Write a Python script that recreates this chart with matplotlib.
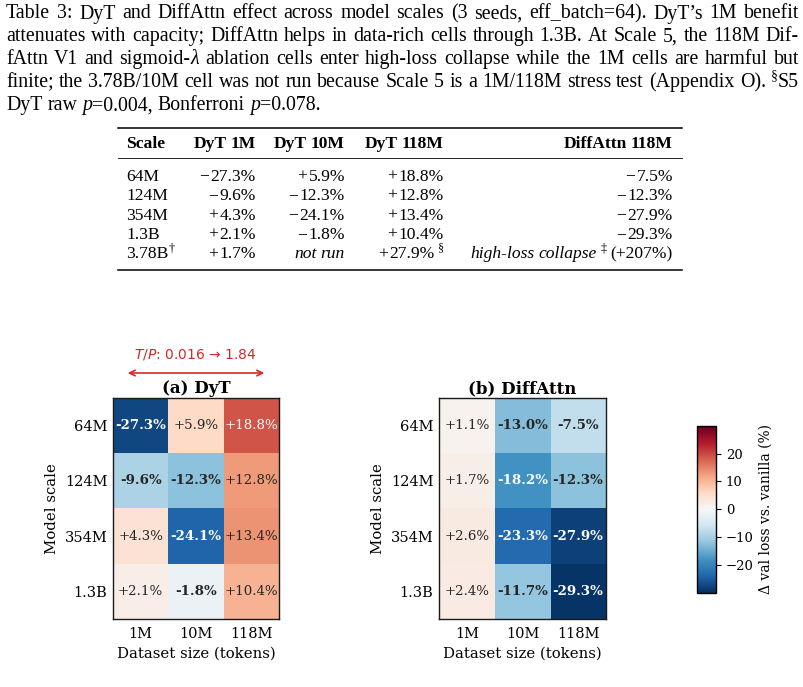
import re
import numpy as np
import matplotlib
matplotlib.use("Agg")
import matplotlib.pyplot as plt
from matplotlib.lines import Line2D

plt.rcParams['font.family'] = 'DejaVu Serif'

# --- caption text (one entry per printed line) ---
caption_lines = [
    "Table 3: DyT and DiffAttn effect across model scales (3 seeds, eff_batch=64). DyT\u2019s 1M benefit",
    "attenuates with capacity; DiffAttn helps in data-rich cells through 1.3B. At Scale 5, the 118M Dif-",
    "fAttn V1 and sigmoid-{it:\u03bb} ablation cells enter high-loss collapse while the 1M cells are harmful but",
    "finite; the 3.78B/10M cell was not run because Scale 5 is a 1M/118M stress test (Appendix O). {sup:\u00a7}S5",
    "DyT raw {it:p}=0.004, Bonferroni {it:p}=0.078.",
]

# --- table values ---
table_header = ["Scale", "DyT 1M", "DyT 10M", "DyT 118M", "DiffAttn 118M"]
table_scales = ["64M", "124M", "354M", "1.3B", "3.78B{sup:\u2020}"]
dyt_1m_all = [-27.3, -9.6, 4.3, 2.1, 1.7]
dyt_10m_all = [5.9, -12.3, -24.1, -1.8, None]          # None = not run
dyt_118m_all = [18.8, 12.8, 13.4, 10.4, 27.9]
dyt_118m_notes = ["", "", "", "", "{sup: \u00a7}"]
diffattn_118m_all = [-7.5, -12.3, -27.9, -29.3, None]  # None = collapse
collapse_text = "{it:high-loss collapse}{sup: \u2021} (+207%)"

# --- heatmap values ---
datasets = ["1M", "10M", "118M"]
scales = ["64M", "124M", "354M", "1.3B"]
dyt = [[-27.3, 5.9, 18.8],
       [-9.6, -12.3, 12.8],
       [4.3, -24.1, 13.4],
       [2.1, -1.8, 10.4]]
diffattn = [[1.1, -13.0, -7.5],
            [1.7, -18.2, -12.3],
            [2.6, -23.3, -27.9],
            [2.4, -11.7, -29.3]]

W, H, DPI = 804, 687, 100
fig = plt.figure(figsize=(W / DPI, H / DPI), dpi=DPI)
renderer = fig.canvas.get_renderer()
SERIF = "Liberation Serif"


def fx(x):
    return x / W


def fy(y):
    return 1 - y / H


def parse(text):
    runs = []
    for part in re.split(r'(\{\w+:[^}]*\})', text):
        if not part:
            continue
        m = re.match(r'\{(\w+):([^}]*)\}', part)
        if m:
            runs.append((m.group(2), m.group(1)))
        else:
            runs.append((part, 'rm'))
    return runs


def build(text, size, weight='normal'):
    """Make the text pieces of a marked-up string, return them with total width (px)."""
    items = []
    for s, style in parse(text):
        if style == 'g':            # explicit gap in px
            items.append((None, float(s)))
            continue
        fs = size * 0.7 if style == 'sup' else size
        dy = 0.4 * size * DPI / 72 if style == 'sup' else 0
        for k, piece in enumerate(s.split(' ')):
            if k > 0:
                items.append((None, 0.25 * fs * DPI / 72))
            if piece:
                t = fig.text(0, 0, piece, fontsize=fs, family=SERIF, weight=weight,
                             style='italic' if style == 'it' else 'normal',
                             va='baseline', ha='left')
                items.append(((t, dy), t.get_window_extent(renderer).width))
    return items, sum(w for _, w in items)


def put(items, x, y):
    for it, w in items:
        if it is not None:
            t, dy = it
            t.set_position((fx(x), fy(y - dy)))
        x += w


def place(text, x, y, size, weight='normal', ha='left'):
    items, total = build(text, size, weight)
    if ha == 'right':
        x -= total
    put(items, x, y)


# --- caption, justified ---
CAP_FS = 14.3
cap_left, cap_right = 6, 799
for k, line in enumerate(caption_lines):
    y = 18.5 + 22.9 * k
    words = [build(w, CAP_FS) for w in line.split(' ')]
    total = sum(w for _, w in words)
    if k < len(caption_lines) - 1:
        gap = (cap_right - cap_left - total) / (len(words) - 1)
    else:
        gap = 0.25 * CAP_FS * DPI / 72
    x = cap_left
    for items, w in words:
        put(items, x, y)
        x += w + gap

# --- table ---
TAB_FS = 12.6
rule_l, rule_r = 118, 682
for yr, lw in [(127.7, 1.1), (157.7, 0.6), (270.3, 1.1)]:
    fig.add_artist(Line2D([fx(rule_l), fx(rule_r)], [fy(yr), fy(yr)],
                          color='black', lw=lw, transform=fig.transFigure))

col_x = [126, 256, 345, 444, 673]
col_ha = ['left', 'right', 'right', 'right', 'right']
for c, head in enumerate(table_header):
    place(head, col_x[c], 147.5, TAB_FS, weight='bold', ha=col_ha[c])


def fmt(v):
    return ("+" if v >= 0 else "\u2212") + "{g:1.5}" + f"{abs(v):.1f}%"


for r in range(len(table_scales)):
    y = 180.5 + 19.5 * r
    cells = [
        table_scales[r],
        fmt(dyt_1m_all[r]),
        fmt(dyt_10m_all[r]) if dyt_10m_all[r] is not None else "{it:not run}",
        fmt(dyt_118m_all[r]) + dyt_118m_notes[r],
        fmt(diffattn_118m_all[r]) if diffattn_118m_all[r] is not None else collapse_text,
    ]
    for c, s in enumerate(cells):
        place(s, col_x[c], y, TAB_FS, ha=col_ha[c])

# --- heatmaps ---
cmap = 'RdBu_r'
vmin, vmax = -30, 30
red = '#d62728'


def heat(ax, data, title):
    arr = np.array(data)
    im = ax.imshow(arr, cmap=cmap, vmin=vmin, vmax=vmax, aspect='auto')
    for i in range(arr.shape[0]):
        for j in range(arr.shape[1]):
            v = arr[i, j]
            ax.text(j, i, f"{v:+.1f}%", ha='center', va='center', fontsize=9.6,
                    weight='bold' if v < 0 else 'normal',
                    color='white' if abs(v) > 15 else '#262626')
    ax.set_xticks(range(len(datasets)), datasets)
    ax.set_yticks(range(len(scales)), scales)
    ax.tick_params(axis='x', length=0, pad=5.5, labelsize=10.5)
    ax.tick_params(axis='y', length=0, pad=4, labelsize=10.5)
    ax.set_xlabel("Dataset size (tokens)", fontsize=10.7, labelpad=4.5)
    ax.set_ylabel("Model scale", fontsize=10.7, labelpad=4)
    ax.set_title(title, fontsize=12, weight='bold', pad=3.5)
    for sp in ax.spines.values():
        sp.set_color('#1a1a1a')
        sp.set_linewidth(1.0)
    return im


ax_a = fig.add_axes([fx(113), fy(619), 166 / W, 221 / H])
ax_b = fig.add_axes([fx(439), fy(619), 167 / W, 221 / H])
im = heat(ax_a, dyt, "(a) DyT")
heat(ax_b, diffattn, "(b) DiffAttn")

ax_a.annotate('', xy=(0.928, 1.113), xytext=(0.072, 1.113), xycoords='axes fraction',
              arrowprops=dict(arrowstyle='<->', color=red, lw=1.2), annotation_clip=False)
ax_a.text(0.494, 1.199, "$T/P$: 0.016 \u2192 1.84", transform=ax_a.transAxes,
          ha='center', va='center', fontsize=10, color=red, family='DejaVu Sans')

cax = fig.add_axes([fx(697), fy(592.7), 19 / W, 167 / H])
cb = fig.colorbar(im, cax=cax)
cb.set_ticks([-20, -10, 0, 10, 20])
cb.ax.tick_params(labelsize=9.5)
cb.set_label("\u0394 val loss vs. vanilla (%)", fontsize=10)
cb.outline.set_linewidth(1.0)

fig.savefig("out.png", dpi=DPI)
